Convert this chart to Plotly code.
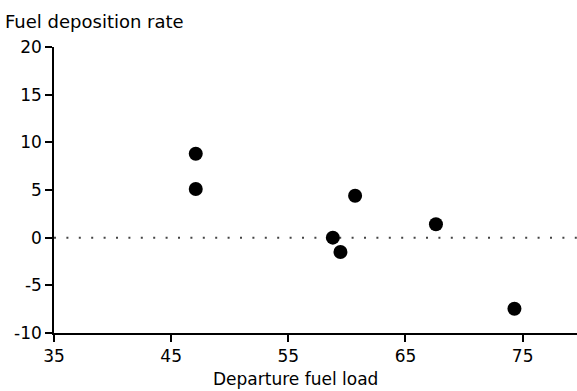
import plotly.graph_objects as go

departure_fuel_load = [47.1, 47.1, 58.8, 59.45, 60.7, 67.6, 74.3]
fuel_deposition_rate = [8.8, 5.1, 0.0, -1.5, 4.4, 1.4, -7.45]

x_ticks = [35, 45, 55, 65, 75]
y_ticks = [-10, -5, 0, 5, 10, 15, 20]
y_tick_labels = ["-10", "-5", "0", "5", "10", "15", "20"]
x_range = [35, 79.64]
y_range = [-10, 20]

FONT = "DejaVu Sans"
W, H = 577, 391
ML, MR, MT, MB = 54, 0, 47, 58
pw = W - ML - MR

fig = go.Figure()

# reference line at zero
fig.add_trace(go.Scatter(
    x=x_range, y=[0, 0], mode="lines",
    line=dict(color="#444444", width=2, dash="2px,10.4px"),
    hoverinfo="skip", showlegend=False, cliponaxis=False,
))

fig.add_trace(go.Scatter(
    x=departure_fuel_load, y=fuel_deposition_rate, mode="markers",
    marker=dict(color="black", size=14, line=dict(width=0)),
    showlegend=False,
))

fig.update_layout(
    width=W, height=H,
    margin=dict(l=ML, r=MR, t=MT, b=MB, pad=0, autoexpand=False),
    paper_bgcolor="white", plot_bgcolor="white",
    font=dict(family=FONT, size=17, color="black"),
    xaxis=dict(range=x_range, tickvals=x_ticks, ticks="outside", ticklen=7,
               tickwidth=1.5, tickcolor="black", showline=True, linecolor="black",
               linewidth=1.5, showgrid=False, zeroline=False, automargin=False,
               tickfont=dict(family=FONT, size=17, color="black")),
    yaxis=dict(range=y_range, tickvals=y_ticks, ticktext=y_tick_labels,
               ticks="outside", ticklen=7,
               tickwidth=1.5, tickcolor="black", showline=True, linecolor="black",
               linewidth=1.5, showgrid=False, zeroline=False, automargin=False,
               tickfont=dict(family=FONT, size=17, color="black")),
    title=dict(text="Fuel deposition rate", xref="container", yref="container",
               x=5 / W, xanchor="left", y=1 - 22 / H, yanchor="middle",
               automargin=False,
               font=dict(family=FONT, size=18, color="black")),
    annotations=[dict(text="Departure fuel load", xref="paper", yref="paper",
                      x=(295 - ML) / pw, y=0, xanchor="center", yanchor="middle",
                      yshift=-46, showarrow=False,
                      font=dict(family=FONT, size=17, color="black"))],
)

fig.write_html(
    "out.html",
    config={"displayModeBar": False},
    post_script="document.body.style.margin='0';document.body.style.padding='0';"
                "document.body.style.overflow='hidden';",
)
